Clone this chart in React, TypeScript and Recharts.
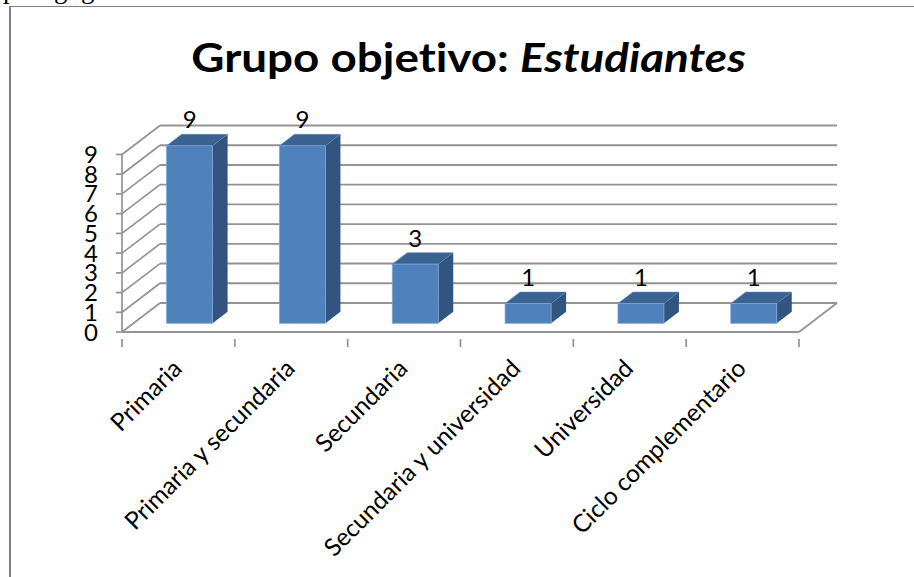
import React from 'react';
import { BarChart, Bar, XAxis, YAxis, CartesianGrid, LabelList } from 'recharts';

const categories = [
  'Primaria',
  'Primaria y secundaria',
  'Secundaria',
  'Secundaria y universidad',
  'Universidad',
  'Ciclo complementario',
];
const values = [9, 9, 3, 1, 1, 1];
const yTicks = [0, 1, 2, 3, 4, 5, 6, 7, 8, 9];

const data = categories.map((name, i) => ({ name, value: values[i] }));

const FONT = 'Lato, sans-serif';
const AXIS_COLOR = '#939393';
// wall depth of the fake 3D box
const WALL_DX = 38;
const WALL_DY = -29;
// bar offset from the front plane and bar depth
const BAR_DX = 11.6;
const BAR_DY = -8.7;
const BAR_DEPTH_X = 15;
const BAR_DEPTH_Y = -11.5;

function GridLine(props: any) {
  const { x1, x2, y1, index } = props;
  const isFloor = y1 > 330;
  return (
    <g key={index}>
      <line x1={x1} y1={y1} x2={x1 + WALL_DX} y2={y1 + WALL_DY} stroke={AXIS_COLOR} strokeWidth={1.7} />
      <line x1={x1 + WALL_DX} y1={y1 + WALL_DY} x2={x2 + WALL_DX} y2={y1 + WALL_DY} stroke={AXIS_COLOR} strokeWidth={1.9} />
      {isFloor && <line x1={x2} y1={y1} x2={x2 + WALL_DX} y2={y1 + WALL_DY} stroke={AXIS_COLOR} strokeWidth={1.7} />}
    </g>
  );
}

function Box3D(props: any) {
  const { x, y, width, height } = props;
  const l = x + BAR_DX;
  const r = l + width;
  const t = y + BAR_DY;
  const b = t + height;
  const dx = BAR_DEPTH_X;
  const dy = BAR_DEPTH_Y;
  return (
    <g>
      <polygon points={`${r},${t} ${r + dx},${t + dy} ${r + dx},${b + dy} ${r},${b}`} fill="#325580" />
      <polygon points={`${l},${t} ${l + dx},${t + dy} ${r + dx},${t + dy} ${r},${t}`} fill="#3b6392" stroke="#5a84b8" strokeWidth={0.5} />
      <rect x={l} y={t} width={width} height={height} fill="#4f81bd" stroke="#7fa6d6" strokeWidth={0.8} />
    </g>
  );
}

function ValueLabel(props: any) {
  const { x, y, width, value } = props;
  return (
    <text x={x + width / 2 + BAR_DX} y={y + BAR_DY - 27} textAnchor="middle" dominantBaseline="central" fontFamily={FONT} fontSize={24} fill="#000">
      {value}
    </text>
  );
}

function CategoryTick(props: any) {
  const { x, y, payload, index, width, visibleTicksCount } = props;
  const step = width / visibleTicksCount;
  const left = x - step / 2;
  return (
    <g>
      <line x1={left} y1={y - 1} x2={left} y2={y + 7} stroke={AXIS_COLOR} strokeWidth={1.7} />
      {index === visibleTicksCount - 1 && (
        <line x1={left + step} y1={y - 1} x2={left + step} y2={y + 7} stroke={AXIS_COLOR} strokeWidth={1.7} />
      )}
      <text
        x={x + 5}
        y={y + 30}
        textAnchor="end"
        fontFamily={FONT}
        fontSize={24.5}
        fill="#000"
        transform={`rotate(-45 ${x + 5} ${y + 30})`}
      >
        {payload.value}
      </text>
    </g>
  );
}

export default function App() {
  return (
    <div style={{ position: 'absolute', left: 0, top: 0, width: 914, height: 577, overflow: 'hidden', background: '#fff' }}>
      <div
        style={{
          position: 'absolute',
          left: 3,
          top: -26,
          fontFamily: '"Liberation Serif", serif',
          fontSize: 27,
          color: '#000',
          whiteSpace: 'nowrap',
        }}
      >
        pedagógicas.
      </div>
      <div style={{ position: 'absolute', left: 9, top: 6, width: 905, height: 571, borderTop: '1px solid #808080', borderLeft: '2px solid #808080', boxSizing: 'border-box' }} />
      <BarChart
        width={914}
        height={577}
        data={data}
        margin={{ top: 154.5, right: 115, bottom: 0, left: 0 }}
        barSize={46}
        style={{ position: 'absolute', left: 0, top: 0 }}
      >
        <text
          transform="translate(468.5 72) scale(1.117 1)"
          textAnchor="middle"
          fontFamily={FONT}
          fontSize={41}
          fontWeight={700}
          fill="#000"
          style={{ fontVariantLigatures: 'none' }}
        >
          Grupo objetivo: <tspan fontStyle="italic">Estudiantes</tspan>
        </text>
        <CartesianGrid vertical={false} horizontal={(p: any) => <GridLine {...p} />} />
        <XAxis
          dataKey="name"
          interval={0}
          height={245}
          tickLine={false}
          axisLine={{ stroke: AXIS_COLOR, strokeWidth: 1.9 }}
          tick={<CategoryTick />}
        />
        <YAxis
          width={122}
          domain={[0, 9]}
          ticks={yTicks}
          interval={0}
          tickSize={6}
          tickMargin={18}
          axisLine={{ stroke: AXIS_COLOR, strokeWidth: 1.7 }}
          tickLine={{ stroke: AXIS_COLOR, strokeWidth: 1.7 }}
          tick={{ fontFamily: FONT, fontSize: 24, fill: '#000' }}
        />
        <Bar dataKey="value" isAnimationActive={false} shape={<Box3D />}>
          <LabelList dataKey="value" content={<ValueLabel />} />
        </Bar>
      </BarChart>
    </div>
  );
}
